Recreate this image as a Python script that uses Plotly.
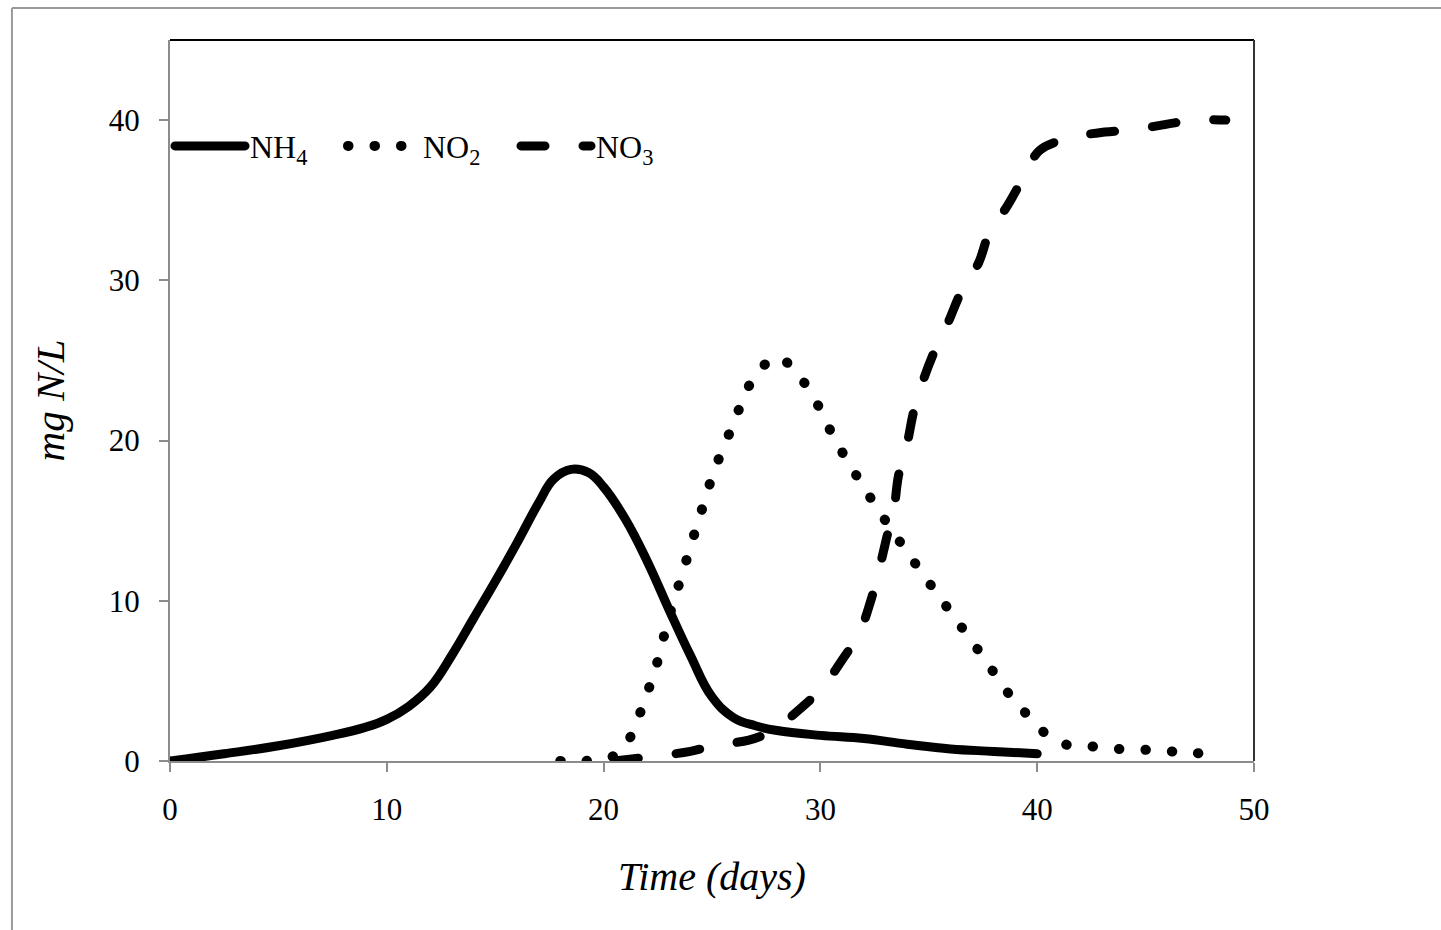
import plotly.graph_objects as go

# ---- data ----
nh4_days = [0, 2.5, 5, 7.5, 9, 10, 11, 12, 13, 14, 15, 16, 17, 17.7, 18.5, 19.3, 20,
            21, 22, 23, 24, 25, 26, 27, 28, 30, 32, 34, 36, 38, 40]
nh4_vals = [0, 0.45, 0.95, 1.6, 2.1, 2.6, 3.4, 4.6, 6.6, 8.9, 11.2, 13.6, 16.1, 17.6, 18.2, 18.0, 17.1,
            15.1, 12.5, 9.5, 6.6, 4.0, 2.7, 2.2, 1.9, 1.6, 1.4, 1.05, 0.75, 0.6, 0.45]

no2_days = [18, 19, 20.3, 21.1, 21.6, 22.0, 22.4, 23.0, 23.7, 24.4, 25.1, 26.0, 26.7, 27.4, 28.0,
            28.6, 29.6, 30.7, 31.9, 33.2, 34.6, 36.0, 37.4, 38.8, 39.6, 40.4, 41.4, 42.6, 43.8,
            45.0, 46.1, 47.3, 48.4]
no2_vals = [0, 0, 0.2, 1.2, 2.7, 4.2, 5.8, 8.9, 12.0, 15.1, 18.1, 21.1, 23.4, 24.7, 25.2,
            24.7, 22.9, 20.0, 17.3, 14.6, 11.9, 9.3, 6.7, 4.0, 2.8, 1.7, 1.0, 0.9, 0.75,
            0.7, 0.6, 0.5, 0.27]

no3_days = [20.5, 22.4, 24, 25.2, 26.7, 27.8, 29.1, 30.1, 31.0, 31.8, 32.3, 32.7, 33.05, 33.4,
            33.6, 34.0, 34.3, 34.7, 35.3, 35.9, 36.5, 37.3, 37.8, 38.6, 39.4, 40.1, 41.5, 42.8,
            44.4, 45.8, 47.2, 48.7]
no3_vals = [0, 0.3, 0.6, 1.0, 1.3, 1.9, 3.3, 4.6, 6.3, 8.0, 9.9, 11.9, 13.9, 15.8,
            17.8, 19.8, 21.8, 23.6, 25.7, 27.4, 29.3, 31.1, 33.0, 34.6, 36.5, 38.1, 38.9, 39.2,
            39.4, 39.7, 40.0, 40.0]

x_ticks = [0, 10, 20, 30, 40, 50]
y_ticks = [0, 10, 20, 30, 40]

FONT = "Liberation Serif, Times New Roman, serif"

fig = go.Figure()
fig.add_trace(go.Scatter(x=nh4_days, y=nh4_vals, mode="lines", name="NH<sub>4</sub>",
                         line=dict(color="black", width=9, shape="spline", smoothing=1.2)))
fig.add_trace(go.Scatter(x=no2_days, y=no2_vals, mode="lines", name="NO<sub>2</sub>",
                         line=dict(color="black", width=10, shape="spline", smoothing=1.0,
                                   dash="0.5px,26px")))
fig.add_trace(go.Scatter(x=no3_days, y=no3_vals, mode="lines", name="NO<sub>3</sub>",
                         line=dict(color="black", width=9, shape="spline", smoothing=1.0,
                                   dash="24px,38px")))

axis_common = dict(showline=True, linecolor="#8c8c8c", linewidth=2, ticks="outside",
                   tickcolor="#8c8c8c", tickwidth=2, ticklen=9, showgrid=False, zeroline=False,
                   tickfont=dict(family=FONT, size=31, color="black"))

fig.update_xaxes(range=[0, 50], tickvals=x_ticks, ticklabelstandoff=11,
                 title=dict(text="<i>Time (days)</i>", font=dict(family=FONT, size=40, color="black"),
                            standoff=36),
                 **axis_common)
fig.update_yaxes(range=[0, 45], tickvals=y_ticks, ticklabelstandoff=13,
                 title=dict(text="<i>mg N/L</i>", font=dict(family=FONT, size=41, color="black"),
                            standoff=31),
                 **axis_common)

# frame: black top/right edges of the plot box, grey outer border of the picture
fig.add_shape(type="line", xref="paper", yref="paper", x0=0, x1=1, y0=1, y1=1,
              line=dict(color="black", width=2))
fig.add_shape(type="line", xref="paper", yref="paper", x0=1, x1=1, y0=0, y1=1,
              line=dict(color="#333333", width=2))
fig.add_shape(type="line", xref="paper", yref="paper", x0=-0.1458, x1=1.2, y0=1.0444, y1=1.0444,
              line=dict(color="#9a9a9a", width=2))
fig.add_shape(type="line", xref="paper", yref="paper", x0=-0.1458, x1=-0.1458, y0=-0.3, y1=1.0444,
              line=dict(color="#9a9a9a", width=2))

fig.update_layout(
    width=1441, height=930,
    margin=dict(l=170, r=187, t=40, b=169),
    paper_bgcolor="white", plot_bgcolor="white",
    font=dict(family=FONT, color="black"),
    showlegend=True,
    legend=dict(orientation="h", x=0, xanchor="left", y=0.891, yanchor="top",
                bgcolor="rgba(0,0,0,0)", font=dict(family=FONT, size=32, color="black"),
                itemwidth=70, entrywidth=88, entrywidthmode="pixels", borderwidth=0),
)

post = """
var s = document.createElement('style');
s.innerHTML = 'body{margin:0;} .js-line, .legendlines path {stroke-linecap: round !important;}';
document.head.appendChild(s);
"""
fig.write_html("out.html", post_script=post, config={"displayModeBar": False})
